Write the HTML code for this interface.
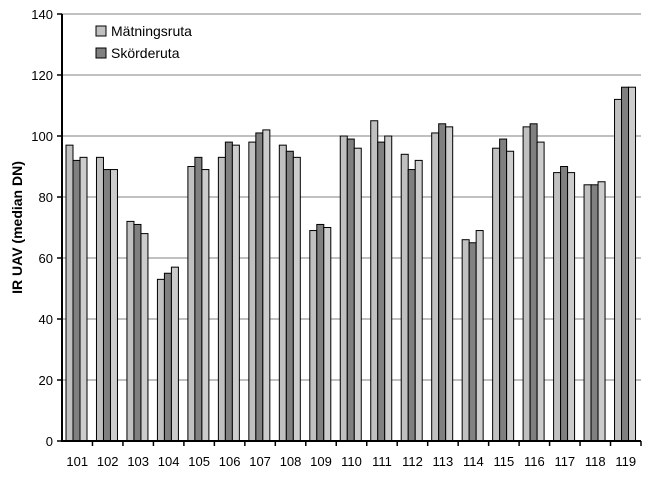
<!DOCTYPE html>
<html><head><meta charset="utf-8"><style>body{margin:0;background:#fff}svg{display:block;font-family:"Liberation Sans",sans-serif}</style></head><body>
<svg id="c" width="651" height="477"></svg>
<script>
const categories=["101","102","103","104","105","106","107","108","109","110","111","112","113","114","115","116","117","118","119"];
const matning=[97,93,72,53,90,93,98,97,69,100,105,94,101,66,96,103,88,84,112];
const skorde=[92,89,71,55,93,98,101,95,71,99,98,89,104,65,99,104,90,84,116];
const third=[93,89,68,57,89,97,102,93,70,96,100,92,103,69,95,98,88,85,116];
const yTicks=[0,20,40,60,80,100,120,140];
const ns="http://www.w3.org/2000/svg",svg=document.getElementById('c');
const x0=62,x1=641,yTop=14,yBot=441,yMax=140;
const y=v=>yBot-v/yMax*(yBot-yTop);
const gw=(x1-x0)/categories.length;
function mk(t,a,txt){const e=document.createElementNS(ns,t);for(const k in a)e.setAttribute(k,a[k]);if(txt!=null)e.textContent=txt;svg.appendChild(e);return e;}
yTicks.forEach(v=>{
 if(v>0){const g=mk('line',{x1:x0,x2:x1,y1:y(v),y2:y(v),stroke:'#808080','stroke-width':1});
 
 }
 const tk=mk('line',{x1:x0-5,x2:x0,y1:y(v),y2:y(v),stroke:'#000','stroke-width':1.5});
 
 
 const t=mk('text',{x:x0-9,y:y(v)+5,'text-anchor':'end','font-size':13},v);
 
 
});
const series=[[matning,'#c0c0c0','matning'],[skorde,'#808080','skorde'],[third,'#cccccc','third']];
const bw=7,off=4;
categories.forEach((c,i)=>{
 const gx=x0+i*gw;
 series.forEach((s,j)=>{
  const v=s[0][i];
  const r=mk('rect',{x:gx+off+j*bw,y:y(v),width:bw,height:yBot-y(v),fill:s[1],stroke:'#000','stroke-width':1});
  
  
 });
 const tk=mk('line',{x1:gx+gw,x2:gx+gw,y1:yBot,y2:yBot+5,stroke:'#000','stroke-width':1.5});
 
 
 const t=mk('text',{x:gx+gw/2,y:yBot+25,'text-anchor':'middle','font-size':13},c);
 
 
});
const ax=mk('path',{d:`M${x0},${yTop}V${yBot}H${x1}`,fill:'none',stroke:'#000','stroke-width':2});


const tt=mk('text',{x:0,y:0,transform:`translate(22,${(yTop+yBot)/2}) rotate(-90)`,'text-anchor':'middle','font-size':14,'font-weight':'bold'},'IR UAV (median DN)');


[['Mätningsruta','#c0c0c0',32],['Skörderuta','#808080',54]].forEach(([n,f,yy])=>{
 const r=mk('rect',{x:96,y:yy-6,width:10,height:10,fill:f,stroke:'#000','stroke-width':1});
 
 
 const t=mk('text',{x:111,y:yy+4,'font-size':14},n);
 
 
});
</script></body></html>
